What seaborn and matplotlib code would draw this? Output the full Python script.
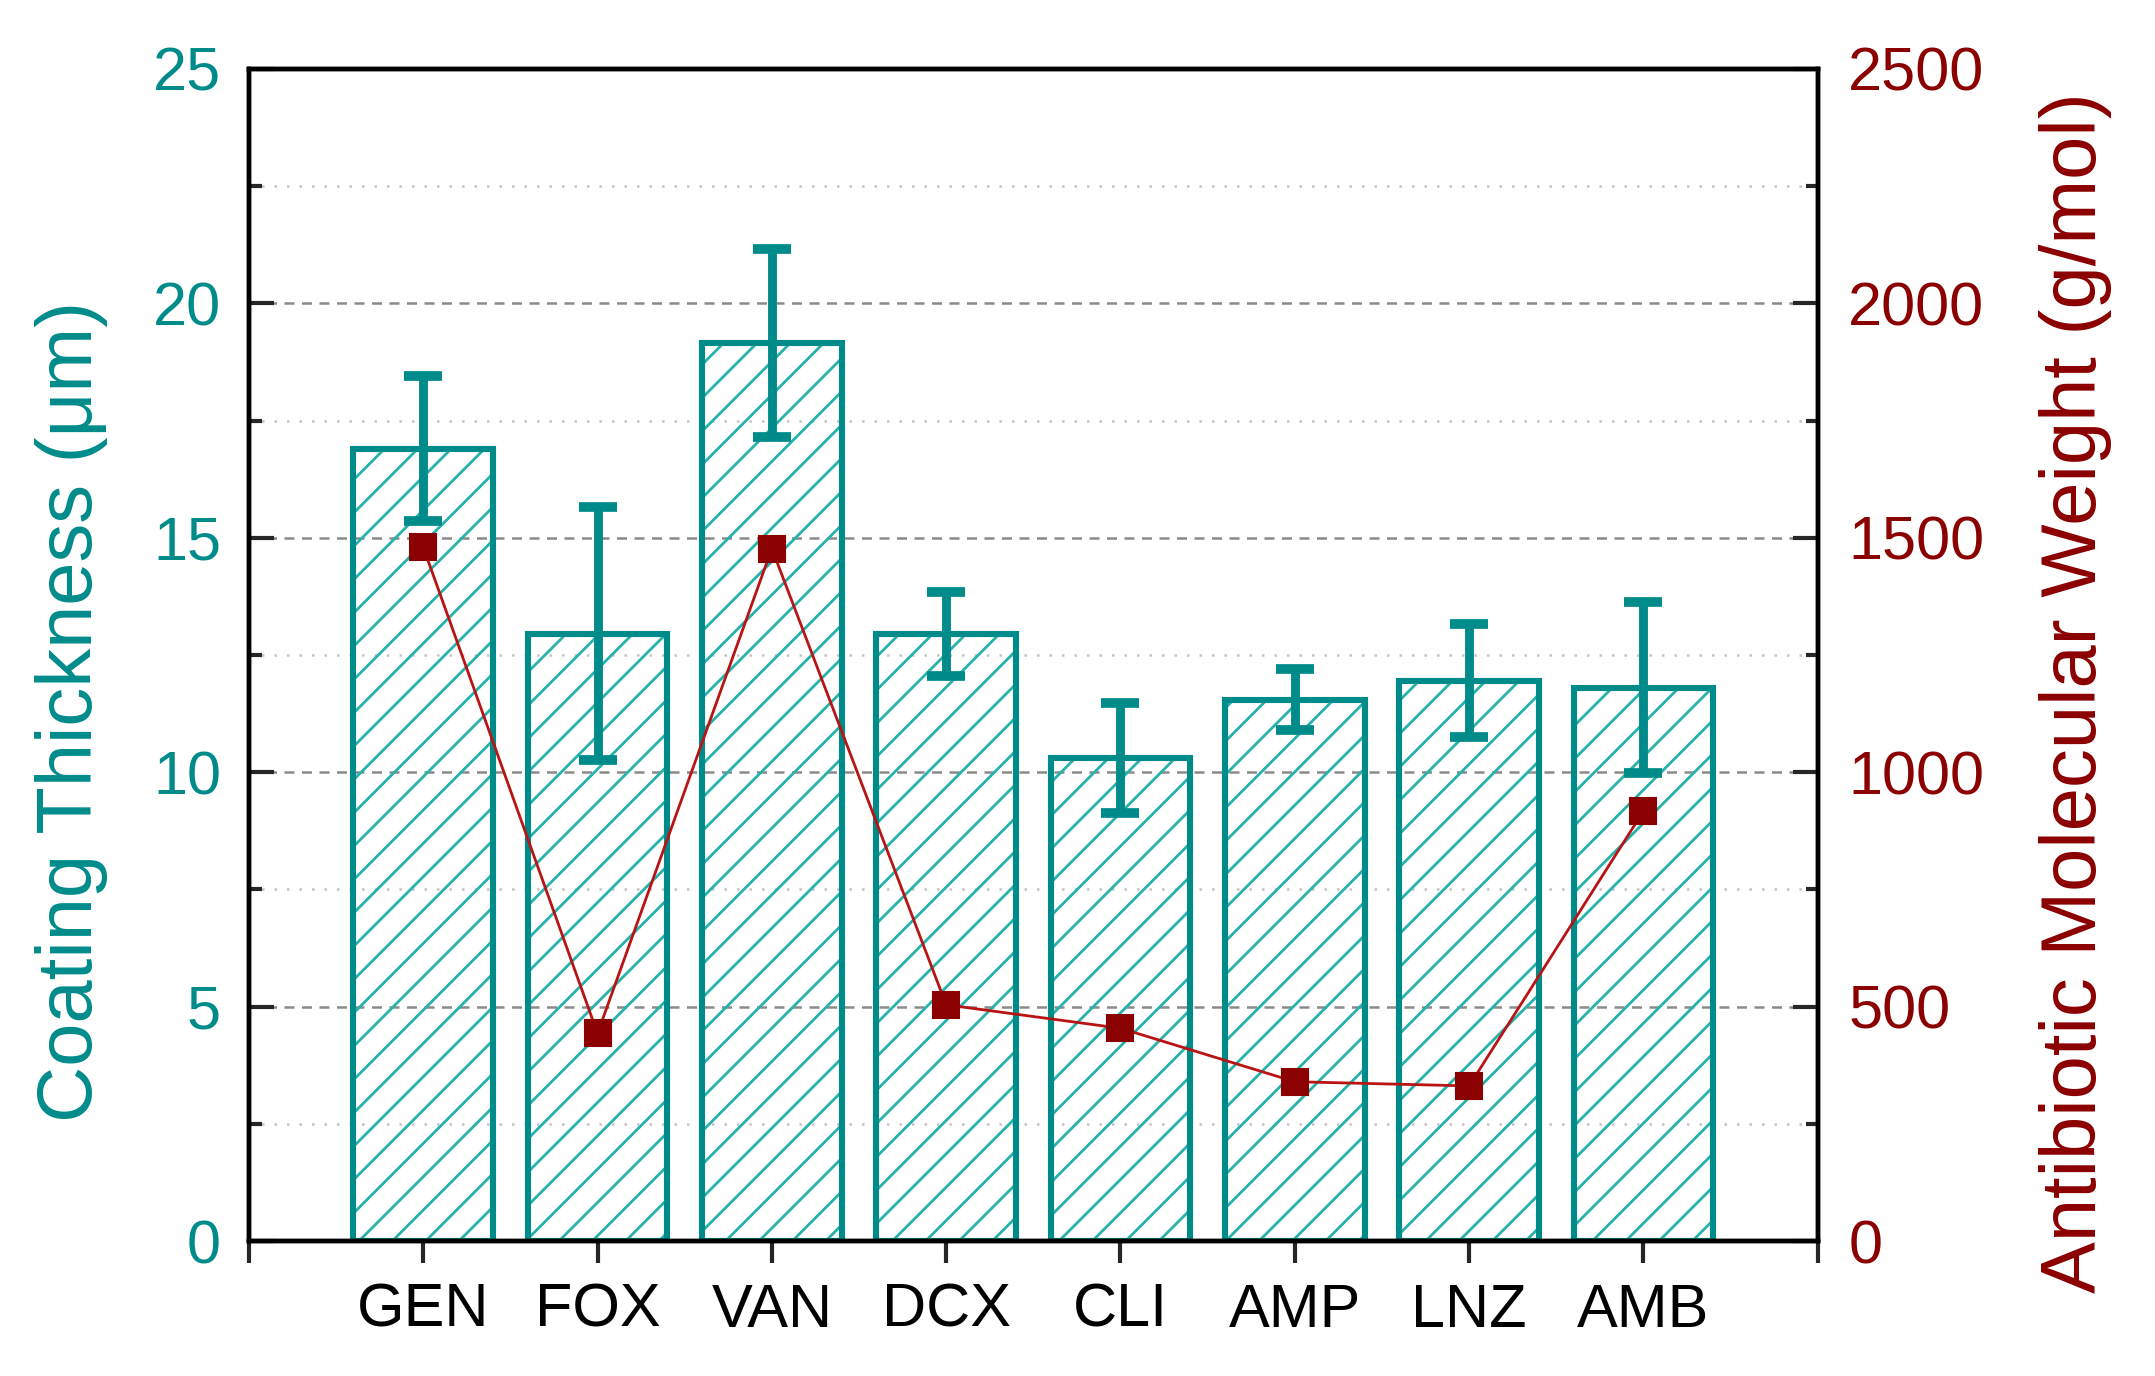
import numpy as np
import matplotlib
matplotlib.use('Agg')
import matplotlib.pyplot as plt
from matplotlib.ticker import MultipleLocator
import seaborn as sns

# data
categories = ['GEN', 'FOX', 'VAN', 'DCX', 'CLI', 'AMP', 'LNZ', 'AMB']
thickness = [16.9, 12.95, 19.15, 12.95, 10.3, 11.55, 11.95, 11.8]
thickness_err = [1.55, 2.7, 2.0, 0.9, 1.17, 0.65, 1.2, 1.82]
mol_weight = [1480, 443, 1477, 504, 454, 340, 331, 917]

teal = '#008B8B'
teal_hatch = '#27B2AC'
red_dark = '#8B0000'
red_line = '#B81414'

sns.set_style('white')
plt.rcParams['font.family'] = ['Liberation Sans', 'DejaVu Sans']
plt.rcParams['hatch.linewidth'] = 1.0

fig = plt.figure(figsize=(10.775, 6.88), dpi=200)
ax = fig.add_axes([0.1155, 0.098, 0.728, 0.852])
ax.set_axisbelow(True)

# hatched fill layer, then outline layer
sns.barplot(x=categories, y=thickness, ax=ax, color=teal_hatch, fill=False,
            saturation=1, width=0.8, errorbar=None, linewidth=0, hatch='//')
sns.barplot(x=categories, y=thickness, ax=ax, color=teal, fill=False,
            saturation=1, width=0.8, errorbar=None, linewidth=2.2)
ax.errorbar(np.arange(len(categories)), thickness, yerr=thickness_err, fmt='none',
            ecolor=teal, elinewidth=3.2, capsize=7, capthick=3.5, zorder=4)

ax.set_ylim(0, 25)
ax.set_xlim(-1, 8)
ax.yaxis.set_major_locator(MultipleLocator(5))
ax.yaxis.set_minor_locator(MultipleLocator(2.5))
ax.set_xticks(np.arange(-1, 9))
ax.set_xticklabels([''] + categories + [''])
ax.grid(which='major', axis='y', linestyle=(0, (4, 3)), color='#8a8a8a', linewidth=0.9)
ax.grid(which='minor', axis='y', linestyle=(0, (1, 4)), color='#c4c4c4', linewidth=0.9)
ax.grid(which='major', axis='x', visible=False)
ax.tick_params(axis='y', which='major', direction='in', length=9, width=1.5,
               labelsize=22, labelcolor=teal, pad=10, right=False, left=True)
ax.tick_params(axis='y', which='minor', direction='in', length=4.5, width=1.5,
               right=False, left=True)
ax.tick_params(axis='x', which='major', direction='out', length=8, width=1.5,
               labelsize=22, labelcolor='black', pad=7, top=False, bottom=True)
ax.set_xlabel('')
ax.set_ylabel('Coating Thickness (μm)', fontsize=28, color=teal)
ax.yaxis.set_label_coords(-0.09, 0.452)

ax2 = ax.twinx()
sns.lineplot(x=np.arange(len(categories)), y=mol_weight, ax=ax2, color=red_line,
             linewidth=1, marker='s', markersize=9.5, markerfacecolor=red_dark,
             markeredgecolor=red_dark)
ax2.set_ylim(0, 2500)
ax2.set_xlim(-1, 8)
ax2.yaxis.set_major_locator(MultipleLocator(500))
ax2.yaxis.set_minor_locator(MultipleLocator(250))
ax2.tick_params(axis='y', which='major', direction='in', length=9, width=1.5,
                labelsize=22, labelcolor=red_dark, pad=11, right=True, left=False)
ax2.tick_params(axis='y', which='minor', direction='in', length=4.5, width=1.5,
                right=True, left=False)
ax2.set_ylabel('Antibiotic Molecular Weight (g/mol)', fontsize=28, color=red_dark)
ax2.yaxis.set_label_coords(1.141, 0.468)
ax2.grid(False)

for a in (ax, ax2):
    for s in a.spines.values():
        s.set_color('black')
        s.set_linewidth(1.6)
        s.set_visible(True)

fig.savefig('out.png', dpi=200)
